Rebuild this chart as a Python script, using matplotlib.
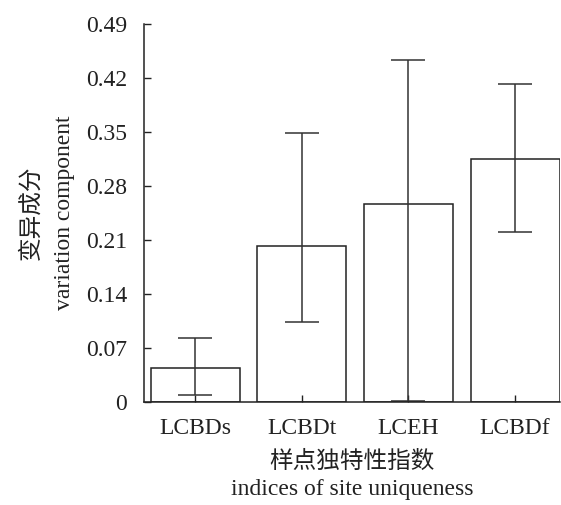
import matplotlib.pyplot as plt

plt.rcParams['font.family'] = ['Liberation Serif', 'Noto Sans CJK SC']

# --- data ---
indices = ["LCBDs", "LCBDt", "LCEH", "LCBDf"]
mean_vals = [0.0442, 0.202, 0.257, 0.3145]
err_low = [0.0087, 0.104, 0.0013, 0.2198]
err_high = [0.0827, 0.349, 0.443, 0.412]
y_ticks = [0, 0.07, 0.14, 0.21, 0.28, 0.35, 0.42, 0.49]
y_tick_labels = ["0", "0.07", "0.14", "0.21", "0.28", "0.35", "0.42", "0.49"]

fig = plt.figure(figsize=(5.61, 5.05), dpi=100)
ax = fig.add_axes([0.2567, 0.2046, 0.7413, 0.7479])

x = range(len(indices))
yerr = [[m - lo for m, lo in zip(mean_vals, err_low)],
        [hi - m for m, hi in zip(mean_vals, err_high)]]

ax.bar(x, mean_vals, width=0.835, color='white', edgecolor='#222222', linewidth=1.1,
       yerr=yerr, capsize=12.5,
       error_kw=dict(ecolor='#333333', elinewidth=1.1, capthick=1.1))

ax.set_xlim(-0.48, 3.42)
ax.set_ylim(0, 0.49)
ax.set_xticks(list(x))
ax.set_xticklabels(indices)
ax.set_yticks(y_ticks)
ax.set_yticklabels(y_tick_labels)

for s in ['top', 'right']:
    ax.spines[s].set_visible(False)
for s in ['left', 'bottom']:
    ax.spines[s].set_linewidth(1.1)
    ax.spines[s].set_color('#222222')

ax.tick_params(axis='both', direction='in', length=5, width=1.0, labelsize=17, colors='#222222')
ax.tick_params(axis='y', pad=12)
ax.tick_params(axis='x', pad=12)

ax.set_ylabel("变异成分\nvariation component", fontsize=17, linespacing=1.7,
              labelpad=8, color='#222222', fontweight='light')
ax.set_xlabel("样点独特性指数\nindices of site uniqueness", fontsize=17, linespacing=1.4,
              labelpad=8, color='#222222', fontweight='light')

fig.savefig("out.png", dpi=100)
